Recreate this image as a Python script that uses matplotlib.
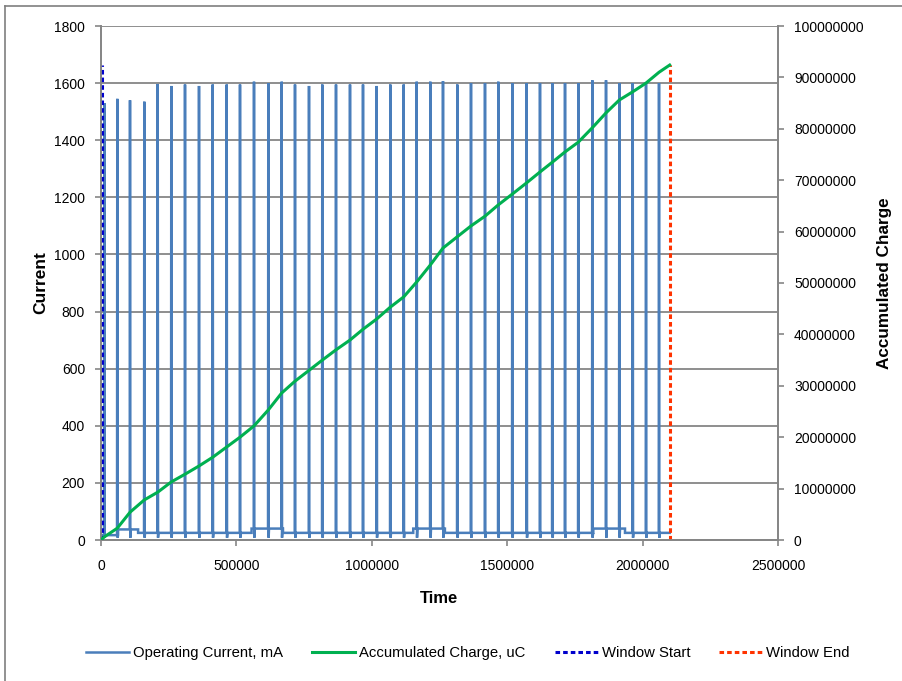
import numpy as np
import matplotlib
matplotlib.use("Agg")
import matplotlib.pyplot as plt
from matplotlib.lines import Line2D

plt.rcParams['font.family'] = ['Liberation Sans', 'DejaVu Sans']

# ---------------- data ----------------
spike_t = [12200, 60200, 107100, 159900, 209400, 259600, 310200, 361900, 412500, 464200,
           513300, 565000, 617800, 667300, 716400, 768100, 817200, 867800, 919500, 967500,
           1018100, 1068300, 1117800, 1165800, 1216000, 1262900, 1315700, 1366300, 1418000,
           1467100, 1518800, 1572000, 1621100, 1666600, 1713500, 1762600, 1814300, 1864900,
           1914000, 1963500, 2012600, 2060600]
spike_peak = [1530, 1545, 1540, 1535, 1597, 1590, 1595, 1590, 1595, 1595,
              1595, 1605, 1600, 1605, 1595, 1590, 1595, 1595, 1595, 1595,
              1590, 1595, 1595, 1605, 1605, 1607, 1595, 1600, 1600,
              1605, 1600, 1600, 1600, 1600, 1600, 1600, 1610, 1610,
              1600, 1600, 1600, 1600]
base_edges = [3000, 63000, 137000, 556000, 672000, 1153000, 1270000, 1818000, 1935000, 2100000]
base_level = [17, 37, 25, 40, 25, 40, 25, 40, 25]
dip_level = 8

charge_t = [0] + spike_t + [2100000]
charge_uC = [0, 0.6e6, 2.3e6, 5.4e6, 7.8e6, 9.3e6, 11.3e6, 12.8e6, 14.4e6, 16.1e6, 18.1e6,
             20.0e6, 22.2e6, 25.3e6, 28.6e6, 30.9e6, 33.0e6, 35.0e6, 37.0e6, 38.9e6, 41.0e6,
             43.0e6, 45.3e6, 47.3e6, 50.2e6, 53.5e6, 56.8e6, 59.0e6, 61.1e6, 63.0e6,
             65.2e6, 67.3e6, 69.5e6, 71.6e6, 73.5e6, 75.5e6, 77.4e6, 80.2e6, 83.1e6,
             85.6e6, 87.2e6, 88.9e6, 91.0e6, 92.4e6]

window_start = 2000
window_end = 2100000
window_top = 92.4e6

# ---------------- build current trace ----------------
pts = []
order = 0
for i, lev in enumerate(base_level):
    pts.append((base_edges[i], order, lev)); order += 1
    pts.append((base_edges[i + 1], order, lev)); order += 1
for t, pk in zip(spike_t, spike_peak):
    idx = int(np.searchsorted(base_edges, t, side='right')) - 1
    idx = min(max(idx, 0), len(base_level) - 1)
    b = base_level[idx]
    for dt, v in [(-1000, b), (0, pk), (1200, dip_level), (2600, b)]:
        pts.append((t + dt, order, v)); order += 1
pts.sort(key=lambda p: (p[0], p[1]))
cur_t = [p[0] for p in pts]
cur_v = [p[2] for p in pts]

# ---------------- figure ----------------
W, H = 902, 681
fig = plt.figure(figsize=(W / 100, H / 100), dpi=100)
L, R, T, B = 101, 778, 26, 540
ax = fig.add_axes([L / W, 1 - B / H, (R - L) / W, (B - T) / H])
ax2 = ax.twinx()

grid_c = '#868686'
blue = '#4A7EBB'
green = '#00B050'

ax.plot(cur_t, cur_v, color=blue, lw=1.8, solid_joinstyle='miter', zorder=3,
        label='Operating Current, mA')
ax.set_xlim(0, 2500000)
ax.set_ylim(0, 1800)
ax.set_yticks(np.arange(0, 1801, 200))
ax.set_xticks(np.arange(0, 2500001, 500000))
ax.set_xticklabels([str(v) for v in range(0, 2500001, 500000)])
ax.grid(axis='y', color=grid_c, lw=1.3)
ax.set_axisbelow(True)

ax2.plot(charge_t, charge_uC, color=green, lw=2.2, zorder=4, label='Accumulated Charge, uC')
ax2.plot([window_start, window_start], [0, window_top], color='#0000CC', lw=2.2,
         dashes=(1.5, 1.0), label='Window Start')
ax2.plot([window_end, window_end], [0, window_top], color='#FF3300', lw=2.2,
         dashes=(1.5, 1.0), label='Window End')
ax2.set_ylim(0, 100000000)
ax2.set_yticks(np.arange(0, 100000001, 10000000))
ax2.set_yticklabels([str(v) for v in range(0, 100000001, 10000000)])

for a in (ax, ax2):
    for s in a.spines.values():
        s.set_color(grid_c)
        s.set_linewidth(1.3)
    a.spines['top'].set_visible(False)

ax.tick_params(axis='both', colors=grid_c, labelcolor='black', labelsize=10, length=4.5, width=1.2)
ax.tick_params(axis='y', pad=7)
ax.tick_params(axis='x', pad=9)
ax2.tick_params(axis='y', colors=grid_c, labelcolor='black', labelsize=10, length=4.5, width=1.2, pad=7)

ax.set_xlabel('Time', fontsize=12, fontweight='bold')
ax.set_ylabel('Current', fontsize=12.5, fontweight='bold')
ax2.set_ylabel('Accumulated Charge', fontsize=12.3, fontweight='bold')
ax.xaxis.set_label_coords(0.499, -0.0994)
ax.yaxis.set_label_coords(-0.078, 0.5)
ax2.yaxis.set_label_coords(1.146, 0.5)

h1, l1 = ax.get_legend_handles_labels()
h2, l2 = ax2.get_legend_handles_labels()
fig.legend(h1 + h2, l1 + l2, loc='center', bbox_to_anchor=(468 / W, 1 - 653 / H), ncol=4,
           frameon=False, fontsize=10.7, handlelength=2.9, handletextpad=0.27,
           columnspacing=1.95, borderpad=0)

# outer chart border (left and top visible)
fig.add_artist(Line2D([4.5 / W, 4.5 / W], [0, 1 - 5.5 / H], color='#7F7F7F', lw=1.2,
                      transform=fig.transFigure))
fig.add_artist(Line2D([4.5 / W, 1], [1 - 5.5 / H, 1 - 5.5 / H], color='#7F7F7F', lw=1.2,
                      transform=fig.transFigure))

fig.savefig('out.png', dpi=100, facecolor='white')
